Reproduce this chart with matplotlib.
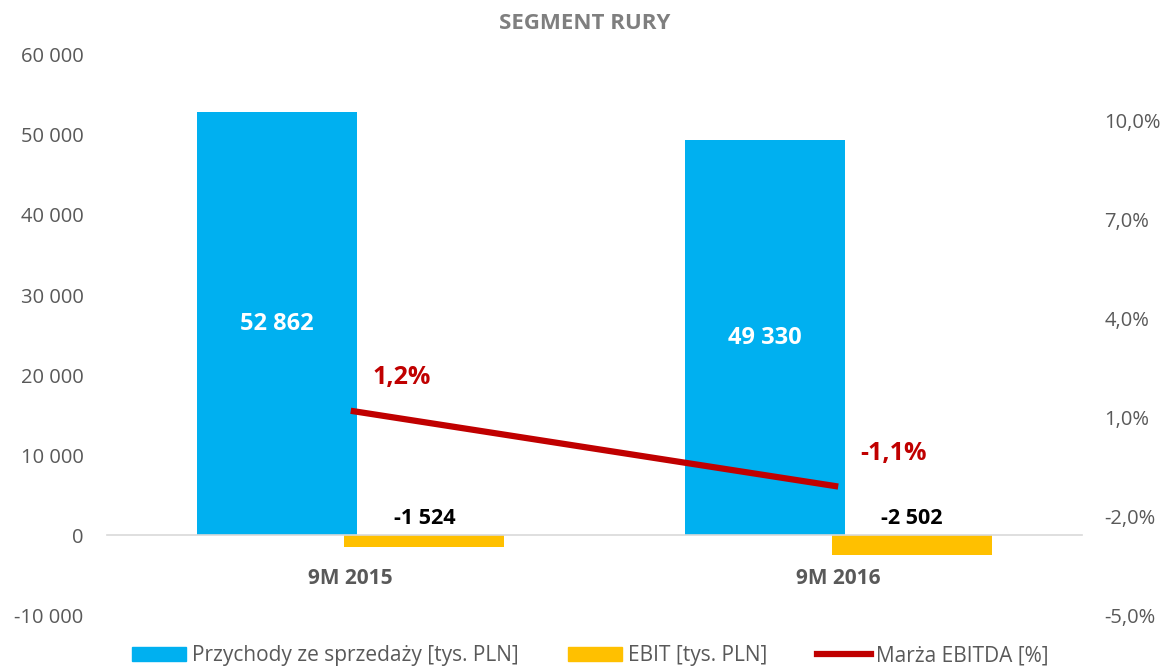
import numpy as np
import matplotlib
matplotlib.use("Agg")
import matplotlib.pyplot as plt
from matplotlib.patches import Patch
from matplotlib.lines import Line2D
from matplotlib.ticker import FuncFormatter

plt.rcParams['font.family'] = ['Open Sans', 'DejaVu Sans']

categories = ["9M 2015", "9M 2016"]
przychody = [52862, 49330]
ebit = [-1524, -2502]
marza = [1.2, -1.1]

BLUE = "#00B0F0"
YELLOW = "#FFC000"
RED = "#C00000"
GRAY = "#595959"

fig = plt.figure(figsize=(11.67, 6.69), dpi=100)
ax = fig.add_axes([0.0917, 0.0807, 0.8354, 0.8371])
ax2 = ax.twinx()

x = np.arange(len(categories))
w = 0.328
off = 0.151

bars1 = ax.bar(x - off, przychody, width=w, color=BLUE, zorder=2)
bars2 = ax.bar(x + off, ebit, width=w, color=YELLOW, zorder=2)

ax.set_xlim(-0.5, len(categories) - 0.5)
ax.set_ylim(-10000, 60000)
ax.set_yticks(np.arange(-10000, 60001, 10000))
ax.yaxis.set_major_formatter(FuncFormatter(lambda v, p: "{:,.0f}".format(v).replace(",", " ")))

for s in ["top", "right", "left"]:
    ax.spines[s].set_visible(False)
ax.spines["bottom"].set_position(("data", 0))
ax.spines["bottom"].set_color("#D9D9D9")
ax.spines["bottom"].set_linewidth(1.2)
ax.set_xticks(x)
ax.set_xticklabels(categories, fontweight="bold", color=GRAY, fontsize=15)
ax.tick_params(axis="x", length=0, pad=24)
ax.tick_params(axis="y", length=0, labelcolor=GRAY, labelsize=14.5, pad=17)

# value labels
for b, v in zip(bars1, przychody):
    ax.text(b.get_x() + b.get_width() / 2, v / 2, "{:,.0f}".format(v).replace(",", " "),
            ha="center", va="center", color="white", fontweight="bold", fontsize=17)
for b, v in zip(bars2, ebit):
    ax.annotate("{:,.0f}".format(v).replace(",", " "), xy=(b.get_x() + b.get_width() / 2, 0),
                xytext=(0, 12), textcoords="offset points",
                ha="center", va="center", color="black", fontweight="bold", fontsize=15.5)

# margin line on secondary axis
ax2.plot(x, marza, color=RED, linewidth=4.5, solid_capstyle="butt", zorder=3)
ax2.set_ylim(-5, 12)
ax2.set_yticks(np.arange(-5, 11, 3))
ax2.yaxis.set_major_formatter(FuncFormatter(lambda v, p: "{:.1f}%".format(v).replace(".", ",")))
for s in ax2.spines.values():
    s.set_visible(False)
ax2.tick_params(axis="y", length=0, labelcolor=GRAY, labelsize=14.5, pad=16)

for xi, m in zip(x, marza):
    ax2.annotate("{:.1f}%".format(m).replace(".", ","), xy=(xi, m),
                 xytext=(16, 24), textcoords="offset points",
                 ha="left", va="center", color=RED, fontweight="bold", fontsize=18)

fig.text(0.501, 0.965, "SEGMENT RURY", ha="center", va="center",
         color="#7F7F7F", fontweight="bold", fontsize=16)

handles = [Patch(color=BLUE), Patch(color=YELLOW), Line2D([0], [0], color=RED, linewidth=4.5)]
labels = ["Przychody ze sprzedaży [tys. PLN]", "EBIT [tys. PLN]", "Marża EBITDA [%]"]
fig.legend(handles, labels, loc="center", bbox_to_anchor=(0.506, 0.02), ncol=3, frameon=False,
           fontsize=15, handlelength=2.6, handletextpad=0.25, columnspacing=2.4,
           labelcolor=GRAY)

fig.savefig("out.png", dpi=100)
